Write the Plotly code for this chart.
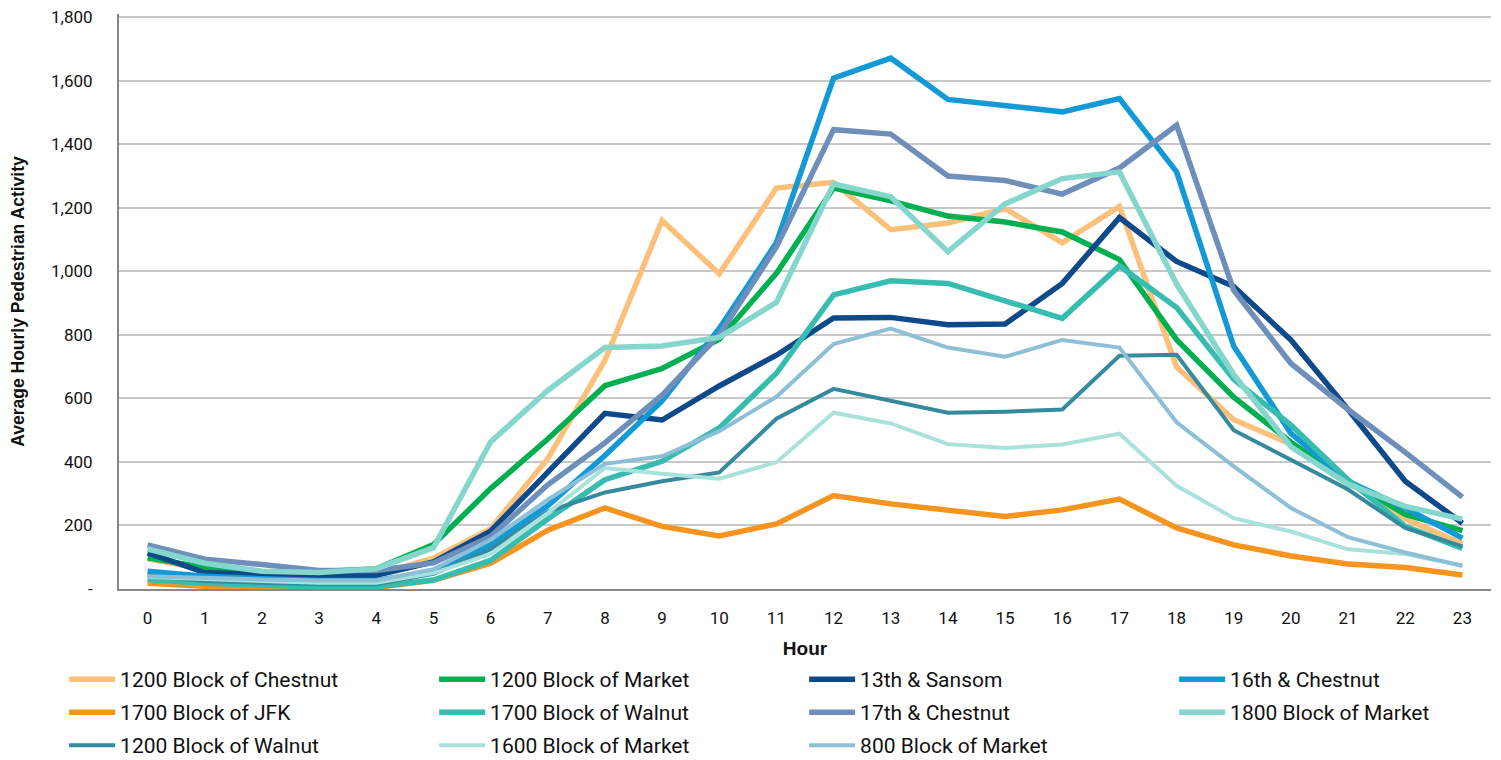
import plotly.graph_objects as go

hours = list(range(24))

series_names = [
    "1200 Block of Chestnut", "1200 Block of Market", "13th & Sansom", "16th & Chestnut",
    "1700 Block of JFK", "1700 Block of Walnut", "17th & Chestnut", "1800 Block of Market",
    "1200 Block of Walnut", "1600 Block of Market", "800 Block of Market",
]

chestnut_1200 = [95, 62, 40, 34, 45, 97, 190, 410, 720, 1160, 992, 1262, 1280, 1131, 1152, 1197, 1090, 1204, 699, 533, 456, 340, 220, 142]
market_1200 = [98, 68, 52, 54, 64, 140, 316, 472, 640, 694, 786, 994, 1262, 1222, 1174, 1155, 1124, 1037, 785, 604, 462, 340, 235, 184]
sansom_13th = [114, 52, 45, 40, 43, 85, 182, 365, 553, 532, 639, 736, 853, 855, 832, 834, 962, 1169, 1031, 952, 784, 565, 339, 207]
chestnut_16th = [56, 40, 32, 27, 27, 55, 140, 262, 420, 592, 820, 1090, 1608, 1671, 1541, 1520, 1502, 1544, 1313, 764, 490, 339, 255, 160]
jfk_1700 = [18, 9, 5, 3, 5, 27, 81, 185, 255, 197, 167, 205, 294, 268, 248, 228, 249, 283, 192, 139, 104, 79, 68, 44]
walnut_1700 = [30, 18, 12, 6, 7, 28, 90, 220, 344, 402, 507, 679, 926, 970, 962, 905, 852, 1017, 886, 660, 516, 344, 197, 128]
chestnut_17th = [139, 94, 77, 58, 58, 82, 165, 328, 460, 610, 800, 1077, 1446, 1432, 1300, 1286, 1243, 1325, 1460, 940, 710, 565, 430, 289]
market_1800 = [126, 81, 56, 52, 64, 130, 463, 625, 760, 765, 792, 902, 1275, 1235, 1062, 1212, 1292, 1313, 960, 675, 448, 330, 260, 220]
walnut_1200 = [42, 25, 20, 15, 15, 48, 125, 244, 304, 339, 367, 536, 630, 592, 555, 558, 565, 734, 737, 500, 407, 313, 192, 134]
market_1600 = [38, 30, 25, 20, 20, 50, 110, 239, 381, 363, 347, 399, 555, 521, 456, 444, 455, 489, 325, 223, 181, 125, 110, 73]
market_800 = [40, 34, 30, 27, 27, 62, 155, 281, 394, 418, 497, 605, 771, 820, 760, 731, 784, 760, 525, 386, 255, 163, 115, 73]

series_values = [chestnut_1200, market_1200, sansom_13th, chestnut_16th, jfk_1700, walnut_1700,
                 chestnut_17th, market_1800, walnut_1200, market_1600, market_800]

colors = ["#FBC07A", "#00AF4F", "#0E4A8A", "#139AD6", "#F7941E", "#37BDB0",
          "#6D8FBA", "#85D6CC", "#358A9E", "#A9E2DA", "#8DBFD6"]
widths = [5.5, 5.5, 5.5, 5.5, 5.5, 5.5, 5.5, 5.5, 4, 4, 4]

y_tickvals = [0, 200, 400, 600, 800, 1000, 1200, 1400, 1600, 1800]
y_ticktext = ["-", "200", "400", "600", "800", "1,000", "1,200", "1,400", "1,600", "1,800"]

FONT = "Roboto, Arial, sans-serif"
BOLD = "Liberation Sans, Arial, sans-serif"

# legend rows (4 entries per row, row-major)
legend_ids = ["legend", "legend2", "legend3"]
legend_y = [-0.1218, -0.1792, -0.2366]

fig = go.Figure()
for i, (name, vals, c, w) in enumerate(zip(series_names, series_values, colors, widths)):
    fig.add_trace(go.Scatter(x=hours, y=vals, name=name, mode="lines",
                             line=dict(color=c, width=w),
                             legend=legend_ids[i // 4]))

leg_common = dict(orientation="h", x=-0.040, xanchor="left", yanchor="top",
                  font=dict(size=21, family=FONT, color="#111111"),
                  entrywidth=309, entrywidthmode="pixels", itemwidth=46,
                  bgcolor="rgba(0,0,0,0)", traceorder="normal")

# the page body has an 8px default margin, so the figure is sized 8px smaller
fig.update_layout(
    width=1493, height=752,
    margin=dict(l=111, r=10, t=6, b=171, autoexpand=False),
    paper_bgcolor="white", plot_bgcolor="white",
    font=dict(family=FONT, color="#111111", size=17),
    legend=dict(y=legend_y[0], **leg_common),
    legend2=dict(y=legend_y[1], **leg_common),
    legend3=dict(y=legend_y[2], **leg_common),
    showlegend=True,
)
fig.update_xaxes(range=[-0.5, 23.5], tickvals=hours, ticktext=[str(h) for h in hours],
                 showgrid=False, showline=True, linecolor="#888888", linewidth=2,
                 zeroline=False, ticks="", ticklabelstandoff=13, automargin=False,
                 tickfont=dict(size=17, family=FONT),
                 title=dict(text="<b>Hour</b>", font=dict(size=19, family=BOLD), standoff=14))
fig.update_yaxes(range=[0, 1810], tickvals=y_tickvals, ticktext=y_ticktext,
                 showgrid=True, gridcolor="#C8C8C8", gridwidth=1.5,
                 showline=True, linecolor="#888888", linewidth=2,
                 zeroline=False, ticks="", ticklabelstandoff=21, automargin=False,
                 ticklabeloverflow="allow",
                 tickfont=dict(size=17, family=FONT),
                 title=dict(text="<b>Average Hourly Pedestrian Activity</b>",
                            font=dict(size=17.5, family=BOLD), standoff=22))

fig.write_html("out.html")
